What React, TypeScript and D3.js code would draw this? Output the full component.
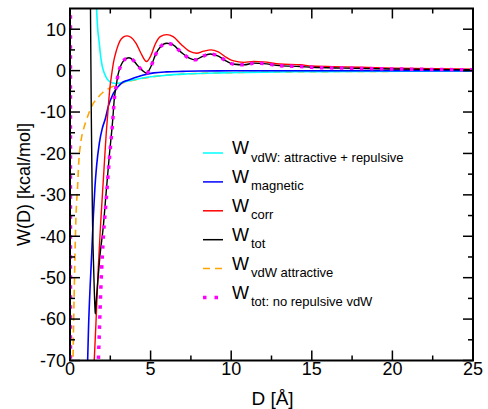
import React from 'react';
import * as d3 from 'd3';

const WIDTH = 488;
const HEIGHT = 409;

// Tick values
const xMajorTicks = [0, 5, 10, 15, 20, 25];
const xMinorTicks = [2.5, 7.5, 12.5, 17.5, 22.5];
const yMajorTicks = [-70, -60, -50, -40, -30, -20, -10, 0, 10];
const yMinorTicks = [-65, -55, -45, -35, -25, -15, -5, 5];

// Series: [D (Å), W (kcal/mol)]
const wVdwFull: [number, number][] = [
  [1.62, 18], [1.66, 14], [1.72, 10], [1.8, 7.2], [1.88, 4.2], [1.96, 1.9], [2.05, 0.3],
  [2.17, -1.0], [2.3, -2.0], [2.48, -2.7], [2.65, -3.0], [2.85, -3.1], [3.1, -3.0],
  [3.5, -2.6], [4.0, -2.2], [5.0, -1.5], [6.0, -1.1], [7.0, -0.85], [8.0, -0.68],
  [9.3, -0.55], [11, -0.42], [14.3, -0.28], [18, -0.2], [25, -0.12],
];

const wMagnetic: [number, number][] = [
  [1.08, -72], [1.15, -62], [1.25, -52], [1.35, -44], [1.45, -35], [1.55, -28],
  [1.65, -23], [1.82, -17.5], [2.0, -14], [2.2, -11.5], [2.37, -8.7], [2.69, -5.5],
  [3.2, -3.0], [3.6, -2.3], [4.0, -1.7], [4.5, -1.1], [5.2, -0.55], [6.0, -0.3],
  [7.0, -0.18], [8.0, -0.1], [10, -0.05], [15, -0.02], [25, 0],
];

const wCorr: [number, number][] = [
  [1.48, -72], [1.61, -61], [1.75, -48], [1.9, -37], [2.09, -25], [2.25, -15],
  [2.35, -10], [2.48, -4], [2.6, -0.5], [2.69, 1.8], [2.89, 5.0], [3.1, 7.2],
  [3.3, 8.1], [3.55, 8.4], [3.8, 8.0], [4.1, 6.6], [4.4, 4.2], [4.75, 2.2],
  [5.0, 3.5], [5.3, 6.5], [5.6, 8.2], [6.0, 8.7], [6.4, 8.2], [6.9, 6.3],
  [7.4, 4.7], [7.85, 4.2], [8.3, 4.7], [8.75, 5.0], [9.2, 4.5], [9.7, 3.2],
  [10.1, 2.4], [10.8, 2.0], [11.4, 2.2], [12, 2.1], [13, 1.6], [14.3, 1.4],
  [15, 1.1], [17, 0.9], [20, 0.6], [25, 0.35],
];

const wTot: [number, number][] = [
  [1.265, 18], [1.29, 5], [1.32, -10], [1.36, -25], [1.40, -37], [1.47, -48],
  [1.55, -57.5], [1.57, -58.7], [1.59, -57.6], [1.7, -52], [1.85, -45], [2.07, -37.5],
  [2.23, -30], [2.44, -20.5], [2.65, -11.9], [2.74, -7.2], [2.89, -3.05], [2.99, -0.8],
  [3.2, 1.6], [3.4, 2.7], [3.65, 3.1], [3.9, 2.6], [4.2, 1.2], [4.5, 0],
  [4.75, -0.6], [5.0, 0.8], [5.3, 3.8], [5.6, 5.7], [6.0, 6.6], [6.4, 6.2],
  [6.9, 4.4], [7.4, 3.0], [7.75, 2.6], [8.2, 3.4], [8.7, 4.0], [9.2, 3.5],
  [9.7, 2.3], [10.1, 1.6], [10.8, 1.4], [11.4, 1.8], [12, 1.7], [13, 1.2],
  [14.3, 1.0], [15, 0.8], [17, 0.6], [20, 0.4], [25, 0.2],
];

const wVdwAttractive: [number, number][] = [
  [0.18, -72], [0.23, -60], [0.28, -50], [0.33, -41], [0.37, -35.3], [0.47, -28.1],
  [0.54, -22.4], [0.68, -17], [0.85, -14], [1.1, -11], [1.4, -8.2], [1.75, -6.4],
  [2.0, -5.4], [2.37, -4.4], [2.99, -3.3], [3.5, -2.7], [4.03, -2.25], [5.0, -1.55],
  [6.0, -1.1], [7.0, -0.85], [8.0, -0.68], [9.3, -0.55], [11, -0.42], [14.3, -0.28],
  [18, -0.2], [25, -0.12],
];

const wTotNoRep: [number, number][] = [
  [1.74, -72], [1.76, -70], [1.92, -52], [2.09, -39], [2.23, -32], [2.44, -21.5],
  [2.65, -12.2], [2.74, -7.3], [2.89, -3.05], [2.99, -0.8], [3.2, 1.6], [3.4, 2.7],
  [3.65, 3.1], [3.9, 2.6], [4.2, 1.2], [4.5, 0], [4.75, -0.6], [5.0, 0.8],
  [5.3, 3.8], [5.6, 5.7], [6.0, 6.6], [6.4, 6.2], [6.9, 4.4], [7.4, 3.0],
  [7.75, 2.6], [8.2, 3.4], [8.7, 4.0], [9.2, 3.5], [9.7, 2.3], [10.1, 1.6],
  [10.8, 1.4], [11.4, 1.8], [12, 1.7], [13, 1.2], [14.3, 1.0], [15, 0.8],
  [17, 0.6], [20, 0.4], [25, 0.2],
];

const wTotNoRepWall: [number, number][] = [
  [0.03, -72], [0.03, 18],
];

const legendSubs = [
  'vdW: attractive + repulsive',
  'magnetic',
  'corr',
  'tot',
  'vdW attractive',
  'tot: no repulsive vdW',
];
const legendColors = ['#00ffff', '#0000ff', '#ff0000', '#000000', '#ffa500', '#ff00ff'];

const FONT = "'Liberation Sans', Arial, sans-serif";
const txt = { fontFamily: FONT };

export default function App() {
  const x = d3.scaleLinear().domain([0, 25]).range([70, 473]);
  const y = d3.scaleLinear().domain([-70, 15]).range([360.5, 8.5]);
  const line = d3
    .line<[number, number]>()
    .x((d) => x(d[0]))
    .y((d) => y(d[1]))
    .curve(d3.curveMonotoneX);
  const straight = d3
    .line<[number, number]>()
    .x((d) => x(d[0]))
    .y((d) => y(d[1]));

  const x0 = x(0), x1 = x(25), y0 = y(-70), y1 = y(15);
  const majorLen = 10;
  const minorLen = 5;

  const series = [
    { data: wVdwAttractive, color: '#ffa500', width: 1.6, dash: '7,5', gen: line },
    { data: wVdwFull, color: '#00ffff', width: 1.6, dash: undefined, gen: line },
    { data: wMagnetic, color: '#0000ff', width: 1.6, dash: undefined, gen: line },
    { data: wCorr, color: '#ff0000', width: 1.4, dash: undefined, gen: line },
    { data: wTot, color: '#000000', width: 1.4, dash: undefined, gen: line },
    { data: wTotNoRep, color: '#ff00ff', width: 3.5, dash: '3.5,6.5', gen: line },
    { data: wTotNoRepWall, color: '#ff00ff', width: 3.5, dash: '3.5,6.5', gen: straight },
  ];

  const legendX = 203;
  const legendY0 = 153;
  const legendStep = 28.9;

  return (
    <svg
      width={WIDTH}
      height={HEIGHT}
      style={{ position: 'absolute', left: 0, top: 0, background: '#fff', fontFamily: FONT }}
    >
      <defs>
        <clipPath id="plotclip">
          <rect x={x0} y={y1} width={x1 - x0} height={y0 - y1} />
        </clipPath>
      </defs>
      <rect x={0} y={0} width={WIDTH} height={HEIGHT} fill="#fff" />

      <g clipPath="url(#plotclip)">
        {series.map((s, i) => (
          <path
            key={i}
            d={s.gen(s.data) || ''}
            fill="none"
            stroke={s.color}
            strokeWidth={s.width}
            strokeDasharray={s.dash}
          />
        ))}
      </g>

      {/* ticks */}
      <g stroke="#000" strokeWidth={1.5}>
        {xMajorTicks.map((t) => (
          <g key={'xm' + t}>
            <line x1={x(t)} x2={x(t)} y1={y0} y2={y0 - majorLen} />
            <line x1={x(t)} x2={x(t)} y1={y1} y2={y1 + majorLen} />
          </g>
        ))}
        {xMinorTicks.map((t) => (
          <g key={'xn' + t}>
            <line x1={x(t)} x2={x(t)} y1={y0} y2={y0 - minorLen} />
            <line x1={x(t)} x2={x(t)} y1={y1} y2={y1 + minorLen} />
          </g>
        ))}
        {yMajorTicks.map((t) => (
          <g key={'ym' + t}>
            <line x1={x0} x2={x0 + majorLen} y1={y(t)} y2={y(t)} />
            <line x1={x1} x2={x1 - majorLen} y1={y(t)} y2={y(t)} />
          </g>
        ))}
        {yMinorTicks.map((t) => (
          <g key={'yn' + t}>
            <line x1={x0} x2={x0 + minorLen} y1={y(t)} y2={y(t)} />
            <line x1={x1} x2={x1 - minorLen} y1={y(t)} y2={y(t)} />
          </g>
        ))}
      </g>

      <rect x={x0} y={y1} width={x1 - x0} height={y0 - y1} fill="none" stroke="#000" strokeWidth={2} />

      {/* tick labels */}
      <g fill="#000">
        {xMajorTicks.map((t) => (
          <text key={'xl' + t} x={x(t)} y={375} textAnchor="middle" style={txt} fontSize={18}>
            {t}
          </text>
        ))}
        {yMajorTicks.map((t) => (
          <text key={'yl' + t} x={66} y={y(t)} dy="0.35em" textAnchor="end" style={txt} fontSize={18}>
            {t}
          </text>
        ))}
      </g>

      {/* axis titles */}
      <text x={(x0 + x1) / 2 + 1} y={405} textAnchor="middle" fontSize={19} style={txt}>
        D [Å]
      </text>
      <text
        transform={`translate(30, ${(y0 + y1) / 2}) rotate(-90)`}
        textAnchor="middle"
        fontSize={18}
        style={txt}
      >
        W(D) [kcal/mol]
      </text>

      {/* legend */}
      {legendSubs.map((sub, i) => {
        const ly = legendY0 + i * legendStep;
        const c = legendColors[i];
        const isDash = i === 4;
        const isDot = i === 5;
        return (
          <g key={'lg' + i}>
            <line
              x1={legendX}
              x2={legendX + 20}
              y1={ly}
              y2={ly}
              stroke={c}
              strokeWidth={isDot ? 3.5 : 1.5}
              strokeDasharray={isDash ? '7,5' : isDot ? '3.5,8' : undefined}
            />
            <text x={232} y={ly + 1} fontSize={18} style={txt}>
              W
            </text>
            <text x={251} y={ly + 8.5} fontSize={13} style={txt}>
              {sub}
            </text>
          </g>
        );
      })}
    </svg>
  );
}
